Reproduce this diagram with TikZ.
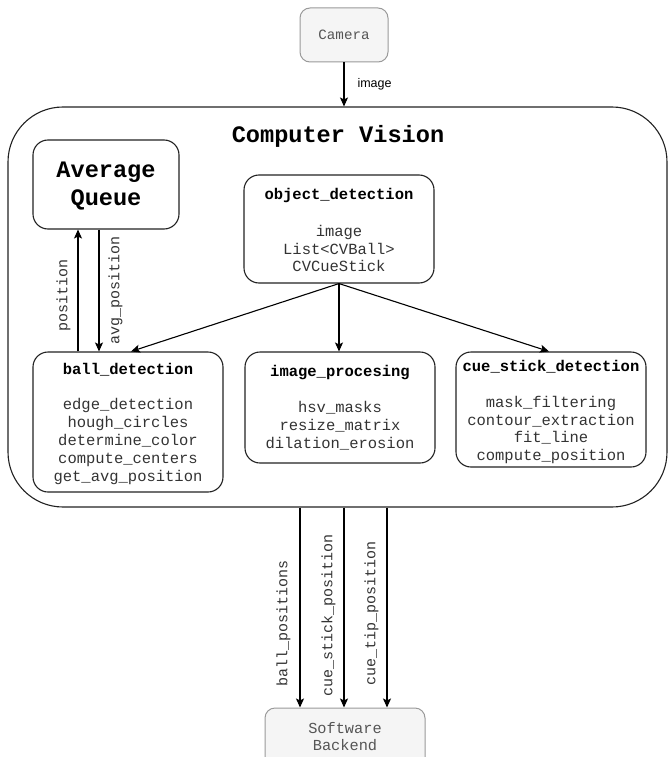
\documentclass[tikz,border=0pt]{standalone}
\usepackage{fontspec}
\setmainfont{Liberation Mono}
\newfontfamily\labelsans{Liberation Sans}
\usetikzlibrary{arrows.meta}

\definecolor{boxline}{HTML}{222222}
\definecolor{bodytext}{HTML}{333333}
\definecolor{extfill}{HTML}{F5F5F5}
\definecolor{extline}{HTML}{9A9A9A}
\definecolor{exttext}{HTML}{555555}

\tikzset{
  module/.style={draw=boxline, line width=1.1pt, rounded corners=15pt, inner sep=0pt},
  extbox/.style={draw=extline, fill=extfill, line width=1pt, rounded corners=10pt, inner sep=0pt},
  title/.style={font=\fontsize{15.5}{18}\selectfont\bfseries, inner sep=0pt},
  body/.style={font=\fontsize{15.5}{17.8}\selectfont, text=bodytext, align=center, inner sep=0pt},
  flow/.style={draw=black, line width=1.1pt, -{Stealth[length=9pt,width=8pt,inset=2pt]}},
  edgelabel/.style={font=\fontsize{15}{17}\selectfont, text=bodytext, rotate=90, inner sep=0pt},
}

\begin{document}
\begin{tikzpicture}[x=1pt, y=-1pt]
\useasboundingbox (0,0) rectangle (670,757);

% external components
\node[extbox, minimum width=88pt, minimum height=54pt] (cam) at (344,35) {};
\node[font=\fontsize{14.2}{16}\selectfont, text=exttext] (camtxt) at (cam.center) {Camera};

\node[extbox, minimum width=160pt, minimum height=70pt] (backend) at (345,743) {};
\node[font=\fontsize{15.3}{17}\selectfont, text=exttext, align=center, inner sep=0pt] (backtxt) at (345,737) {Software\\Backend};

% computer vision container
\node[draw=boxline, line width=1.1pt, rounded corners=55pt, minimum width=659pt, minimum height=400pt, inner sep=0pt] (cv) at (337.5,307) {};
\node[font=\fontsize{23.6}{28}\selectfont\bfseries, inner sep=0pt] (cvtitle) at (338,136) {Computer Vision};

% average queue
\node[module, minimum width=146pt, minimum height=89pt] (aq) at (106,184.5) {};
\node[font=\fontsize{23.6}{28}\selectfont\bfseries, align=center, inner sep=0pt] (aqtxt) at (106,186) {Average\\Queue};

% object detection
\node[module, minimum width=190pt, minimum height=108pt] (obj) at (339,229) {};
\node[title] (objtitle) at (339,195) {object\_detection};
\node[body] (objbody) at (339,248.5) {image\\List<CVBall>\\CVCueStick};

% ball detection
\node[module, minimum width=190pt, minimum height=140pt] (ball) at (128,422) {};
\node[title] (balltitle) at (128,370) {ball\_detection};
\node[body] (ballbody) at (128,441.5) {edge\_detection\\hough\_circles\\determine\_color\\compute\_centers\\get\_avg\_position};

% image processing
\node[module, minimum width=190pt, minimum height=111pt] (imgp) at (340,407.5) {};
\node[title] (imgptitle) at (340,373) {image\_procesing};
\node[body] (imgpbody) at (340,426) {hsv\_masks\\resize\_matrix\\dilation\_erosion};

% cue stick detection
\node[module, minimum width=190pt, minimum height=115pt] (cue) at (551,409.5) {};
\node[title] (cuetitle) at (551,367) {cue\_stick\_detection};
\node[body] (cuebody) at (551,430) {mask\_filtering\\contour\_extraction\\fit\_line\\compute\_position};

% helper columns for vertical connectors
\coordinate (colpos) at (78,0);
\coordinate (colavg) at (99,0);
\coordinate (colballs) at (300,0);
\coordinate (colstick) at (344,0);
\coordinate (coltip) at (387,0);

% camera input
\draw[flow] (cam.south) -- (cv.north -| cam.south)
  node[midway, right, xshift=13pt, font=\labelsans\fontsize{12.5}{14}\selectfont, inner sep=0pt] (imglbl) {image};

% object detection fan-out
\draw[flow] (obj.south) -- ([xshift=3pt]ball.north);
\draw[flow] (obj.south) -- (imgp.north -| obj.south);
\draw[flow] (obj.south) -- ([xshift=-2pt]cue.north);

% average queue loop
\draw[flow] (ball.north -| colpos) -- (aq.south -| colpos)
  node[pos=0.46, edgelabel, anchor=south, yshift=7pt] (poslbl) {position};
\draw[flow] (aq.south -| colavg) -- (ball.north -| colavg)
  node[pos=0.5, edgelabel, anchor=north, yshift=-9pt] (avglbl) {avg\_position};

% outputs to backend
\draw[flow] (cv.south -| colballs) -- (backend.north -| colballs)
  node[pos=0.58, edgelabel, anchor=south, yshift=9pt] (ballslbl) {ball\_positions};
\draw[flow] (cv.south -| colstick) -- (backend.north -| colstick)
  node[pos=0.54, edgelabel, anchor=south, yshift=8pt] (sticklbl) {cue\_stick\_position};
\draw[flow] (cv.south -| coltip) -- (backend.north -| coltip)
  node[pos=0.53, edgelabel, anchor=south, yshift=8pt] (tiplbl) {cue\_tip\_position};
\end{tikzpicture}
\end{document}
